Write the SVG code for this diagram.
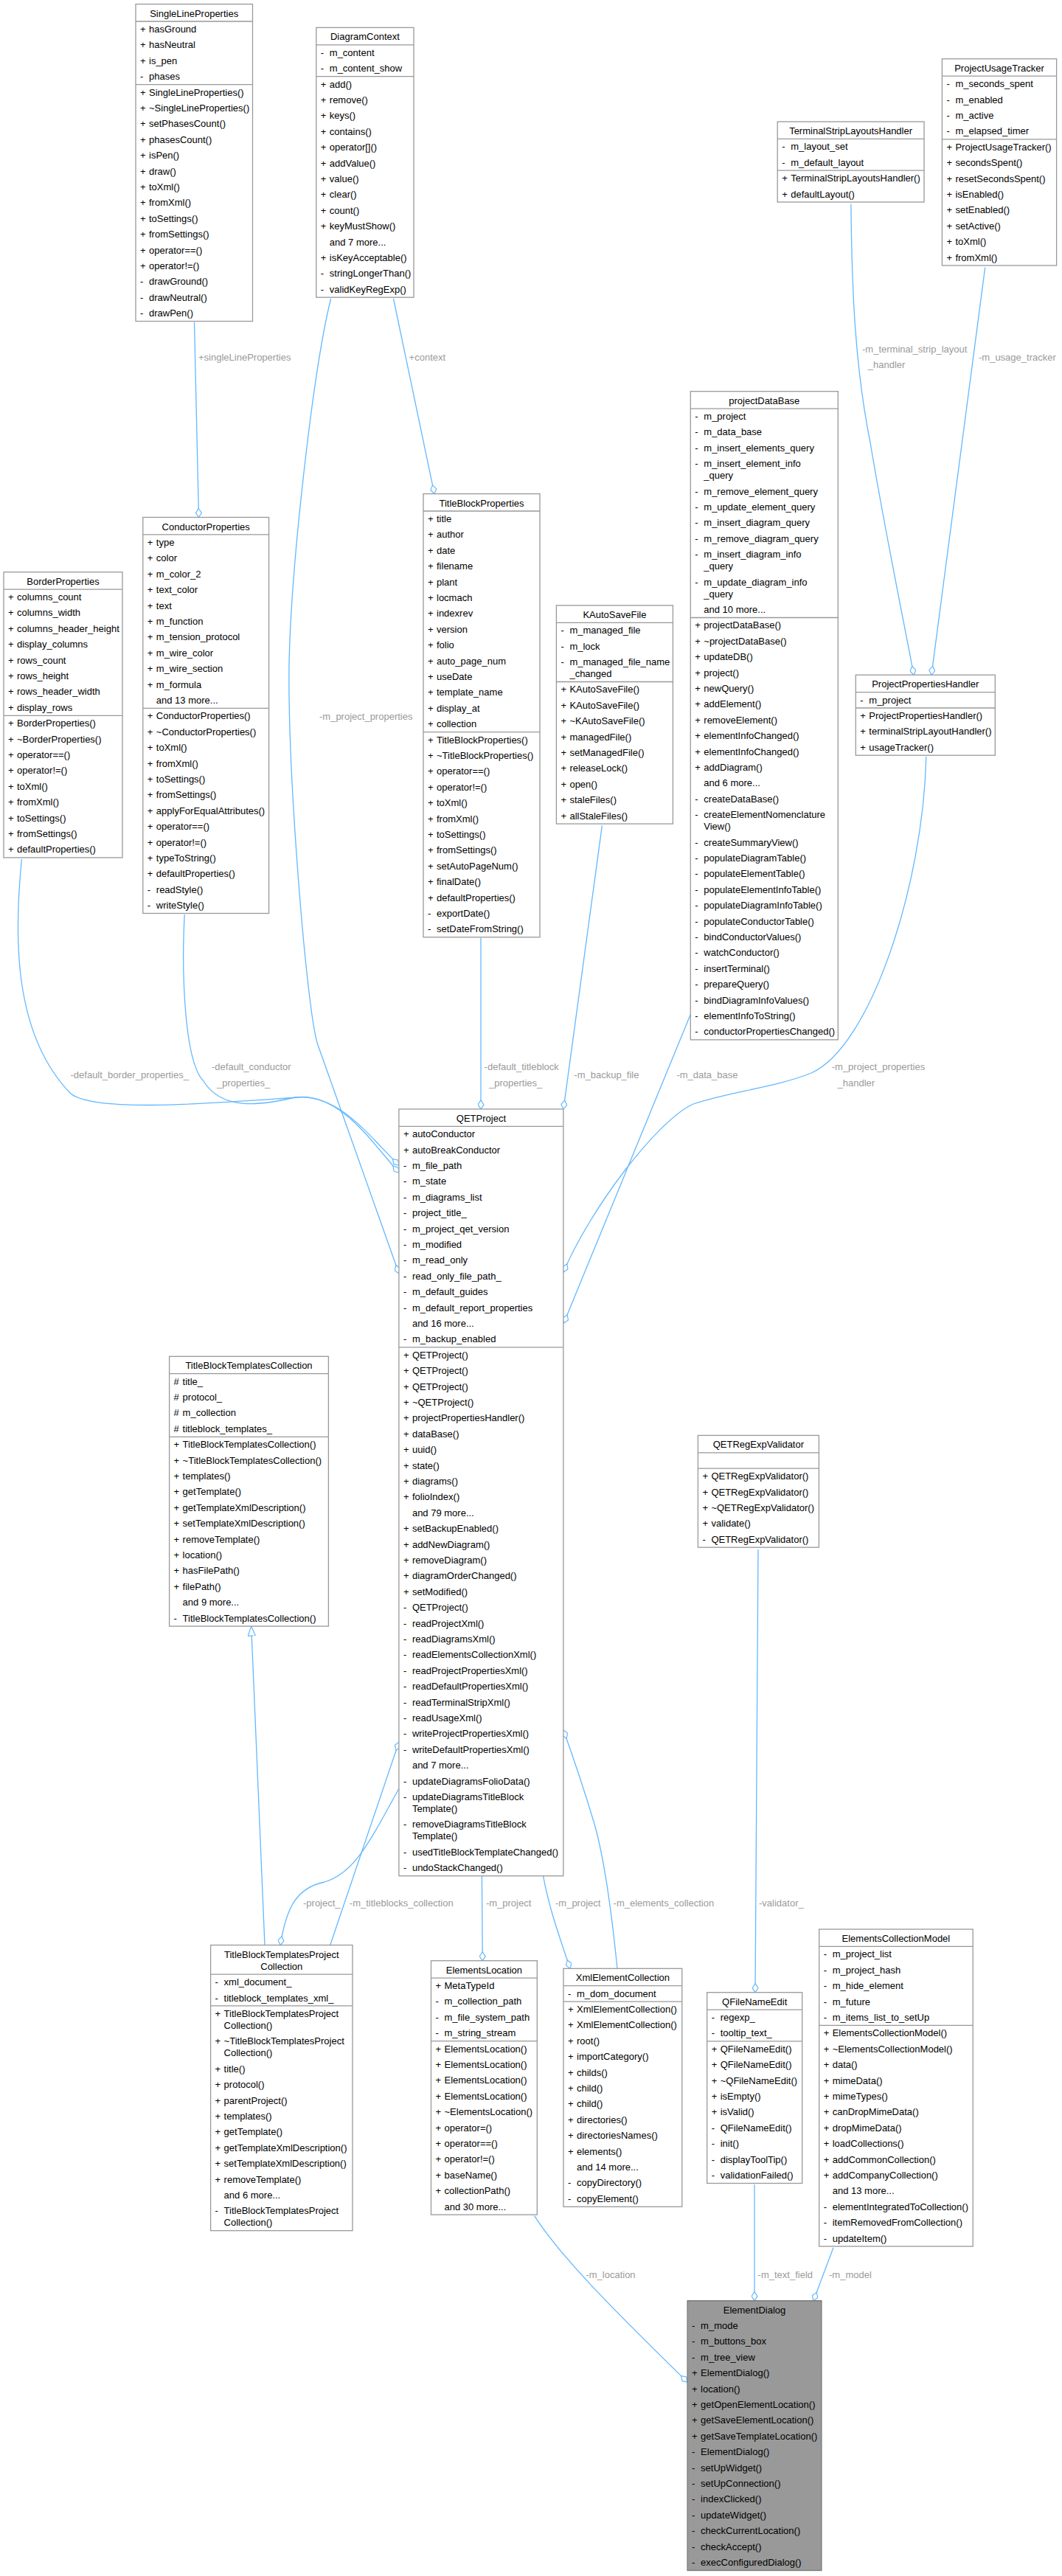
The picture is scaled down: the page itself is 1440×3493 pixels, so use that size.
<svg xmlns="http://www.w3.org/2000/svg" width="1440" height="3493" viewBox="0 0 1440 3493">
<style>
text{font-family:"Liberation Sans",Arial,sans-serif;font-size:13px;fill:#000}
.b{fill:#fff;stroke:#999;stroke-width:1.3}
.g{fill:#999;stroke:#777;stroke-width:1.3}
.l{stroke:#999;stroke-width:1.3}
.h{text-anchor:middle}
.e{fill:none;stroke:#63b8ff;stroke-width:1.3}
.lb{fill:#9a9a9a}
</style>
<defs>
<marker id="dia" markerUnits="userSpaceOnUse" viewBox="0 0 13 9" refX="12.5" refY="4.5" markerWidth="13" markerHeight="9" orient="auto"><path d="M0.5,4.5 L6.5,0.5 L12.5,4.5 L6.5,8.5 Z" fill="#fff" stroke="#63b8ff" stroke-width="1.2"/></marker>
<marker id="tri" markerUnits="userSpaceOnUse" viewBox="0 0 14 11" refX="13.5" refY="5.5" markerWidth="14" markerHeight="11" orient="auto"><path d="M0.5,0.5 L13.5,5.5 L0.5,10.5 Z" fill="#fff" stroke="#63b8ff" stroke-width="1.2"/></marker>
</defs>
<rect width="1440" height="3493" fill="#fff"/>

<g id="connectors">
<path class="e" marker-end="url(#dia)" d="M263.5,437 L269.5,701.5"/>
<path class="e" marker-end="url(#dia)" d="M533.5,405 L589,669.6"/>
<path class="e" marker-end="url(#dia)" d="M448.6,405 C425,500 395,760 392,900 C390,1050 415,1360 430,1414 L541,1727"/>
<path class="e" marker-end="url(#dia)" d="M29.4,1165 C20,1260 15,1400 96,1483 C130,1510 300,1495 404,1488 C460,1484 500,1540 541,1580"/>
<path class="e" marker-end="url(#dia)" d="M250.2,1240 C246,1320 250,1440 276,1466 C300,1505 350,1500 400,1488 C460,1480 505,1550 541,1590"/>
<path class="e" marker-end="url(#dia)" d="M652,1271.8 L652,1503.9"/>
<path class="e" marker-end="url(#dia)" d="M816.4,1119.4 L764,1503.9"/>
<path class="e" marker-end="url(#dia)" d="M936.3,1375.6 L764.5,1794"/>
<path class="e" marker-end="url(#dia)" d="M1255.8,1026 C1252,1200 1180,1420 1100,1455 C1050,1475 990,1480 940,1497 C890,1520 800,1640 764,1725"/>
<path class="e" marker-end="url(#dia)" d="M1153.9,276.8 C1155,400 1160,500 1180,600 C1200,720 1225,840 1239,915.2"/>
<path class="e" marker-end="url(#dia)" d="M1335.7,362.7 L1263,915.2"/>
<path class="e" marker-end="url(#tri)" d="M359,2637.5 L340.7,2205.1"/>
<path class="e" marker-end="url(#dia)" d="M541,2425 C500,2500 480,2540 440,2552 C400,2560 388,2590 380,2637.5"/>
<path class="e" marker-end="url(#dia)" d="M447.7,2637.5 L541,2362"/>
<path class="e" marker-end="url(#dia)" d="M653.4,2543.7 L654.3,2658.7"/>
<path class="e" marker-end="url(#dia)" d="M837,2669.3 C830,2600 820,2520 805,2470 C790,2420 778,2385 764,2346"/>
<path class="e" marker-end="url(#dia)" d="M736.5,2543.7 C745,2590 760,2630 773,2669.3"/>
<path class="e" marker-end="url(#dia)" d="M1028,2101 L1024,2701.7"/>
<path class="e" marker-end="url(#dia)" d="M724.6,3004.7 C760,3060 830,3130 932.1,3230"/>
<path class="e" marker-end="url(#dia)" d="M1023,2962.3 L1023,3119.7"/>
<path class="e" marker-end="url(#dia)" d="M1130,3047.7 L1103,3119.7"/>
<g class="lb">
<text class="lb" x="269" y="488.5">+singleLineProperties</text>
<text class="lb" x="554.6" y="488.5">+context</text>
<text class="lb" x="433" y="975.5">-m_project_properties</text>
<text class="lb" x="95.5" y="1461.5">-default_border_properties_</text>
<text class="lb" x="287" y="1450.5">-default_conductor</text>
<text class="lb" x="294" y="1472.5">_properties_</text>
<text class="lb" x="656.6" y="1450.5">-default_titleblock</text>
<text class="lb" x="663" y="1472.5">_properties_</text>
<text class="lb" x="778.3" y="1461.5">-m_backup_file</text>
<text class="lb" x="917.4" y="1461.5">-m_data_base</text>
<text class="lb" x="1127.7" y="1450.5">-m_project_properties</text>
<text class="lb" x="1135.5" y="1472.5">_handler</text>
<text class="lb" x="1169" y="477.5">-m_terminal_strip_layout</text>
<text class="lb" x="1176.8" y="498.9">_handler</text>
<text class="lb" x="1327" y="488.5">-m_usage_tracker</text>
<text class="lb" x="411" y="2584.5">-project_</text>
<text class="lb" x="473.8" y="2584.5">-m_titleblocks_collection</text>
<text class="lb" x="658.9" y="2584.5">-m_project</text>
<text class="lb" x="753" y="2584.5">-m_project</text>
<text class="lb" x="831.6" y="2584.5">-m_elements_collection</text>
<text class="lb" x="1029" y="2584.5">-validator_</text>
<text class="lb" x="794.4" y="3088.5">-m_location</text>
<text class="lb" x="1027.6" y="3088.5">-m_text_field</text>
<text class="lb" x="1124" y="3088.5">-m_model</text>
</g>
</g>

<g id="SingleLineProperties" transform="translate(184,5.6)">
<rect class="b" width="158.5" height="430"/><line class="l" x1="0" y1="23.4" x2="158.5" y2="23.4"/><line class="l" x1="0" y1="109" x2="158.5" y2="109"/>
<text class="h" x="79.2" y="17">SingleLineProperties</text>
<text y="38.4"><tspan x="6">+</tspan><tspan x="18">hasGround</tspan></text>
<text y="59.8"><tspan x="6">+</tspan><tspan x="18">hasNeutral</tspan></text>
<text y="81.2"><tspan x="6">+</tspan><tspan x="18">is_pen</tspan></text>
<text y="102.6"><tspan x="6">-</tspan><tspan x="18">phases</tspan></text>
<text y="124"><tspan x="6">+</tspan><tspan x="18">SingleLineProperties()</tspan></text>
<text y="145.4"><tspan x="6">+</tspan><tspan x="18">~SingleLineProperties()</tspan></text>
<text y="166.8"><tspan x="6">+</tspan><tspan x="18">setPhasesCount()</tspan></text>
<text y="188.2"><tspan x="6">+</tspan><tspan x="18">phasesCount()</tspan></text>
<text y="209.6"><tspan x="6">+</tspan><tspan x="18">isPen()</tspan></text>
<text y="231"><tspan x="6">+</tspan><tspan x="18">draw()</tspan></text>
<text y="252.4"><tspan x="6">+</tspan><tspan x="18">toXml()</tspan></text>
<text y="273.8"><tspan x="6">+</tspan><tspan x="18">fromXml()</tspan></text>
<text y="295.2"><tspan x="6">+</tspan><tspan x="18">toSettings()</tspan></text>
<text y="316.6"><tspan x="6">+</tspan><tspan x="18">fromSettings()</tspan></text>
<text y="338"><tspan x="6">+</tspan><tspan x="18">operator==()</tspan></text>
<text y="359.4"><tspan x="6">+</tspan><tspan x="18">operator!=()</tspan></text>
<text y="380.8"><tspan x="6">-</tspan><tspan x="18">drawGround()</tspan></text>
<text y="402.2"><tspan x="6">-</tspan><tspan x="18">drawNeutral()</tspan></text>
<text y="423.6"><tspan x="6">-</tspan><tspan x="18">drawPen()</tspan></text>
</g>

<g id="DiagramContext" transform="translate(428.8,37.4)">
<rect class="b" width="132.2" height="365.8"/><line class="l" x1="0" y1="23.4" x2="132.2" y2="23.4"/><line class="l" x1="0" y1="66.2" x2="132.2" y2="66.2"/>
<text class="h" x="66.1" y="17">DiagramContext</text>
<text y="38.4"><tspan x="6">-</tspan><tspan x="18">m_content</tspan></text>
<text y="59.8"><tspan x="6">-</tspan><tspan x="18">m_content_show</tspan></text>
<text y="81.2"><tspan x="6">+</tspan><tspan x="18">add()</tspan></text>
<text y="102.6"><tspan x="6">+</tspan><tspan x="18">remove()</tspan></text>
<text y="124"><tspan x="6">+</tspan><tspan x="18">keys()</tspan></text>
<text y="145.4"><tspan x="6">+</tspan><tspan x="18">contains()</tspan></text>
<text y="166.8"><tspan x="6">+</tspan><tspan x="18">operator[]()</tspan></text>
<text y="188.2"><tspan x="6">+</tspan><tspan x="18">addValue()</tspan></text>
<text y="209.6"><tspan x="6">+</tspan><tspan x="18">value()</tspan></text>
<text y="231"><tspan x="6">+</tspan><tspan x="18">clear()</tspan></text>
<text y="252.4"><tspan x="6">+</tspan><tspan x="18">count()</tspan></text>
<text y="273.8"><tspan x="6">+</tspan><tspan x="18">keyMustShow()</tspan></text>
<text x="18" y="295.2">and 7 more...</text>
<text y="316.6"><tspan x="6">+</tspan><tspan x="18">isKeyAcceptable()</tspan></text>
<text y="338"><tspan x="6">-</tspan><tspan x="18">stringLongerThan()</tspan></text>
<text y="359.4"><tspan x="6">-</tspan><tspan x="18">validKeyRegExp()</tspan></text>
</g>

<g id="ConductorProperties" transform="translate(193.8,701.5)">
<rect class="b" width="170.8" height="537"/><line class="l" x1="0" y1="23.4" x2="170.8" y2="23.4"/><line class="l" x1="0" y1="258.8" x2="170.8" y2="258.8"/>
<text class="h" x="85.4" y="17">ConductorProperties</text>
<text y="38.4"><tspan x="6">+</tspan><tspan x="18">type</tspan></text>
<text y="59.8"><tspan x="6">+</tspan><tspan x="18">color</tspan></text>
<text y="81.2"><tspan x="6">+</tspan><tspan x="18">m_color_2</tspan></text>
<text y="102.6"><tspan x="6">+</tspan><tspan x="18">text_color</tspan></text>
<text y="124"><tspan x="6">+</tspan><tspan x="18">text</tspan></text>
<text y="145.4"><tspan x="6">+</tspan><tspan x="18">m_function</tspan></text>
<text y="166.8"><tspan x="6">+</tspan><tspan x="18">m_tension_protocol</tspan></text>
<text y="188.2"><tspan x="6">+</tspan><tspan x="18">m_wire_color</tspan></text>
<text y="209.6"><tspan x="6">+</tspan><tspan x="18">m_wire_section</tspan></text>
<text y="231"><tspan x="6">+</tspan><tspan x="18">m_formula</tspan></text>
<text x="18" y="252.4">and 13 more...</text>
<text y="273.8"><tspan x="6">+</tspan><tspan x="18">ConductorProperties()</tspan></text>
<text y="295.2"><tspan x="6">+</tspan><tspan x="18">~ConductorProperties()</tspan></text>
<text y="316.6"><tspan x="6">+</tspan><tspan x="18">toXml()</tspan></text>
<text y="338"><tspan x="6">+</tspan><tspan x="18">fromXml()</tspan></text>
<text y="359.4"><tspan x="6">+</tspan><tspan x="18">toSettings()</tspan></text>
<text y="380.8"><tspan x="6">+</tspan><tspan x="18">fromSettings()</tspan></text>
<text y="402.2"><tspan x="6">+</tspan><tspan x="18">applyForEqualAttributes()</tspan></text>
<text y="423.6"><tspan x="6">+</tspan><tspan x="18">operator==()</tspan></text>
<text y="445"><tspan x="6">+</tspan><tspan x="18">operator!=()</tspan></text>
<text y="466.4"><tspan x="6">+</tspan><tspan x="18">typeToString()</tspan></text>
<text y="487.8"><tspan x="6">+</tspan><tspan x="18">defaultProperties()</tspan></text>
<text y="509.2"><tspan x="6">-</tspan><tspan x="18">readStyle()</tspan></text>
<text y="530.6"><tspan x="6">-</tspan><tspan x="18">writeStyle()</tspan></text>
</g>

<g id="BorderProperties" transform="translate(5,775.7)">
<rect class="b" width="161" height="387.2"/><line class="l" x1="0" y1="23.4" x2="161" y2="23.4"/><line class="l" x1="0" y1="194.6" x2="161" y2="194.6"/>
<text class="h" x="80.5" y="17">BorderProperties</text>
<text y="38.4"><tspan x="6">+</tspan><tspan x="18">columns_count</tspan></text>
<text y="59.8"><tspan x="6">+</tspan><tspan x="18">columns_width</tspan></text>
<text y="81.2"><tspan x="6">+</tspan><tspan x="18">columns_header_height</tspan></text>
<text y="102.6"><tspan x="6">+</tspan><tspan x="18">display_columns</tspan></text>
<text y="124"><tspan x="6">+</tspan><tspan x="18">rows_count</tspan></text>
<text y="145.4"><tspan x="6">+</tspan><tspan x="18">rows_height</tspan></text>
<text y="166.8"><tspan x="6">+</tspan><tspan x="18">rows_header_width</tspan></text>
<text y="188.2"><tspan x="6">+</tspan><tspan x="18">display_rows</tspan></text>
<text y="209.6"><tspan x="6">+</tspan><tspan x="18">BorderProperties()</tspan></text>
<text y="231"><tspan x="6">+</tspan><tspan x="18">~BorderProperties()</tspan></text>
<text y="252.4"><tspan x="6">+</tspan><tspan x="18">operator==()</tspan></text>
<text y="273.8"><tspan x="6">+</tspan><tspan x="18">operator!=()</tspan></text>
<text y="295.2"><tspan x="6">+</tspan><tspan x="18">toXml()</tspan></text>
<text y="316.6"><tspan x="6">+</tspan><tspan x="18">fromXml()</tspan></text>
<text y="338"><tspan x="6">+</tspan><tspan x="18">toSettings()</tspan></text>
<text y="359.4"><tspan x="6">+</tspan><tspan x="18">fromSettings()</tspan></text>
<text y="380.8"><tspan x="6">+</tspan><tspan x="18">defaultProperties()</tspan></text>
</g>

<g id="TitleBlockProperties" transform="translate(574,669.6)">
<rect class="b" width="158" height="601.2"/><line class="l" x1="0" y1="23.4" x2="158" y2="23.4"/><line class="l" x1="0" y1="323" x2="158" y2="323"/>
<text class="h" x="79" y="17">TitleBlockProperties</text>
<text y="38.4"><tspan x="6">+</tspan><tspan x="18">title</tspan></text>
<text y="59.8"><tspan x="6">+</tspan><tspan x="18">author</tspan></text>
<text y="81.2"><tspan x="6">+</tspan><tspan x="18">date</tspan></text>
<text y="102.6"><tspan x="6">+</tspan><tspan x="18">filename</tspan></text>
<text y="124"><tspan x="6">+</tspan><tspan x="18">plant</tspan></text>
<text y="145.4"><tspan x="6">+</tspan><tspan x="18">locmach</tspan></text>
<text y="166.8"><tspan x="6">+</tspan><tspan x="18">indexrev</tspan></text>
<text y="188.2"><tspan x="6">+</tspan><tspan x="18">version</tspan></text>
<text y="209.6"><tspan x="6">+</tspan><tspan x="18">folio</tspan></text>
<text y="231"><tspan x="6">+</tspan><tspan x="18">auto_page_num</tspan></text>
<text y="252.4"><tspan x="6">+</tspan><tspan x="18">useDate</tspan></text>
<text y="273.8"><tspan x="6">+</tspan><tspan x="18">template_name</tspan></text>
<text y="295.2"><tspan x="6">+</tspan><tspan x="18">display_at</tspan></text>
<text y="316.6"><tspan x="6">+</tspan><tspan x="18">collection</tspan></text>
<text y="338"><tspan x="6">+</tspan><tspan x="18">TitleBlockProperties()</tspan></text>
<text y="359.4"><tspan x="6">+</tspan><tspan x="18">~TitleBlockProperties()</tspan></text>
<text y="380.8"><tspan x="6">+</tspan><tspan x="18">operator==()</tspan></text>
<text y="402.2"><tspan x="6">+</tspan><tspan x="18">operator!=()</tspan></text>
<text y="423.6"><tspan x="6">+</tspan><tspan x="18">toXml()</tspan></text>
<text y="445"><tspan x="6">+</tspan><tspan x="18">fromXml()</tspan></text>
<text y="466.4"><tspan x="6">+</tspan><tspan x="18">toSettings()</tspan></text>
<text y="487.8"><tspan x="6">+</tspan><tspan x="18">fromSettings()</tspan></text>
<text y="509.2"><tspan x="6">+</tspan><tspan x="18">setAutoPageNum()</tspan></text>
<text y="530.6"><tspan x="6">+</tspan><tspan x="18">finalDate()</tspan></text>
<text y="552"><tspan x="6">+</tspan><tspan x="18">defaultProperties()</tspan></text>
<text y="573.4"><tspan x="6">-</tspan><tspan x="18">exportDate()</tspan></text>
<text y="594.8"><tspan x="6">-</tspan><tspan x="18">setDateFromString()</tspan></text>
</g>

<g id="TerminalStripLayoutsHandler" transform="translate(1054.2,165)">
<rect class="b" width="198.8" height="109"/><line class="l" x1="0" y1="23.4" x2="198.8" y2="23.4"/><line class="l" x1="0" y1="66.2" x2="198.8" y2="66.2"/>
<text class="h" x="99.4" y="17">TerminalStripLayoutsHandler</text>
<text y="38.4"><tspan x="6">-</tspan><tspan x="18">m_layout_set</tspan></text>
<text y="59.8"><tspan x="6">-</tspan><tspan x="18">m_default_layout</tspan></text>
<text y="81.2"><tspan x="6">+</tspan><tspan x="18">TerminalStripLayoutsHandler()</tspan></text>
<text y="102.6"><tspan x="6">+</tspan><tspan x="18">defaultLayout()</tspan></text>
</g>

<g id="ProjectUsageTracker" transform="translate(1277.4,79.8)">
<rect class="b" width="155.2" height="280.2"/><line class="l" x1="0" y1="23.4" x2="155.2" y2="23.4"/><line class="l" x1="0" y1="109" x2="155.2" y2="109"/>
<text class="h" x="77.6" y="17">ProjectUsageTracker</text>
<text y="38.4"><tspan x="6">-</tspan><tspan x="18">m_seconds_spent</tspan></text>
<text y="59.8"><tspan x="6">-</tspan><tspan x="18">m_enabled</tspan></text>
<text y="81.2"><tspan x="6">-</tspan><tspan x="18">m_active</tspan></text>
<text y="102.6"><tspan x="6">-</tspan><tspan x="18">m_elapsed_timer</tspan></text>
<text y="124"><tspan x="6">+</tspan><tspan x="18">ProjectUsageTracker()</tspan></text>
<text y="145.4"><tspan x="6">+</tspan><tspan x="18">secondsSpent()</tspan></text>
<text y="166.8"><tspan x="6">+</tspan><tspan x="18">resetSecondsSpent()</tspan></text>
<text y="188.2"><tspan x="6">+</tspan><tspan x="18">isEnabled()</tspan></text>
<text y="209.6"><tspan x="6">+</tspan><tspan x="18">setEnabled()</tspan></text>
<text y="231"><tspan x="6">+</tspan><tspan x="18">setActive()</tspan></text>
<text y="252.4"><tspan x="6">+</tspan><tspan x="18">toXml()</tspan></text>
<text y="273.8"><tspan x="6">+</tspan><tspan x="18">fromXml()</tspan></text>
</g>

<g id="projectDataBase" transform="translate(936.3,530.7)">
<rect class="b" width="200" height="879.2"/><line class="l" x1="0" y1="23.4" x2="200" y2="23.4"/><line class="l" x1="0" y1="306.8" x2="200" y2="306.8"/>
<text class="h" x="100" y="17">projectDataBase</text>
<text y="38.4"><tspan x="6">-</tspan><tspan x="18">m_project</tspan></text>
<text y="59.8"><tspan x="6">-</tspan><tspan x="18">m_data_base</tspan></text>
<text y="81.2"><tspan x="6">-</tspan><tspan x="18">m_insert_elements_query</tspan></text>
<text y="102.6"><tspan x="6">-</tspan><tspan x="18">m_insert_element_info</tspan></text>
<text x="18" y="118.6">_query</text>
<text y="140"><tspan x="6">-</tspan><tspan x="18">m_remove_element_query</tspan></text>
<text y="161.4"><tspan x="6">-</tspan><tspan x="18">m_update_element_query</tspan></text>
<text y="182.8"><tspan x="6">-</tspan><tspan x="18">m_insert_diagram_query</tspan></text>
<text y="204.2"><tspan x="6">-</tspan><tspan x="18">m_remove_diagram_query</tspan></text>
<text y="225.6"><tspan x="6">-</tspan><tspan x="18">m_insert_diagram_info</tspan></text>
<text x="18" y="241.6">_query</text>
<text y="263"><tspan x="6">-</tspan><tspan x="18">m_update_diagram_info</tspan></text>
<text x="18" y="279">_query</text>
<text x="18" y="300.4">and 10 more...</text>
<text y="321.8"><tspan x="6">+</tspan><tspan x="18">projectDataBase()</tspan></text>
<text y="343.2"><tspan x="6">+</tspan><tspan x="18">~projectDataBase()</tspan></text>
<text y="364.6"><tspan x="6">+</tspan><tspan x="18">updateDB()</tspan></text>
<text y="386"><tspan x="6">+</tspan><tspan x="18">project()</tspan></text>
<text y="407.4"><tspan x="6">+</tspan><tspan x="18">newQuery()</tspan></text>
<text y="428.8"><tspan x="6">+</tspan><tspan x="18">addElement()</tspan></text>
<text y="450.2"><tspan x="6">+</tspan><tspan x="18">removeElement()</tspan></text>
<text y="471.6"><tspan x="6">+</tspan><tspan x="18">elementInfoChanged()</tspan></text>
<text y="493"><tspan x="6">+</tspan><tspan x="18">elementInfoChanged()</tspan></text>
<text y="514.4"><tspan x="6">+</tspan><tspan x="18">addDiagram()</tspan></text>
<text x="18" y="535.8">and 6 more...</text>
<text y="557.2"><tspan x="6">-</tspan><tspan x="18">createDataBase()</tspan></text>
<text y="578.6"><tspan x="6">-</tspan><tspan x="18">createElementNomenclature</tspan></text>
<text x="18" y="594.6">View()</text>
<text y="616"><tspan x="6">-</tspan><tspan x="18">createSummaryView()</tspan></text>
<text y="637.4"><tspan x="6">-</tspan><tspan x="18">populateDiagramTable()</tspan></text>
<text y="658.8"><tspan x="6">-</tspan><tspan x="18">populateElementTable()</tspan></text>
<text y="680.2"><tspan x="6">-</tspan><tspan x="18">populateElementInfoTable()</tspan></text>
<text y="701.6"><tspan x="6">-</tspan><tspan x="18">populateDiagramInfoTable()</tspan></text>
<text y="723"><tspan x="6">-</tspan><tspan x="18">populateConductorTable()</tspan></text>
<text y="744.4"><tspan x="6">-</tspan><tspan x="18">bindConductorValues()</tspan></text>
<text y="765.8"><tspan x="6">-</tspan><tspan x="18">watchConductor()</tspan></text>
<text y="787.2"><tspan x="6">-</tspan><tspan x="18">insertTerminal()</tspan></text>
<text y="808.6"><tspan x="6">-</tspan><tspan x="18">prepareQuery()</tspan></text>
<text y="830"><tspan x="6">-</tspan><tspan x="18">bindDiagramInfoValues()</tspan></text>
<text y="851.4"><tspan x="6">-</tspan><tspan x="18">elementInfoToString()</tspan></text>
<text y="872.8"><tspan x="6">-</tspan><tspan x="18">conductorPropertiesChanged()</tspan></text>
</g>

<g id="KAutoSaveFile" transform="translate(754.4,820.9)">
<rect class="b" width="158" height="296.2"/><line class="l" x1="0" y1="23.4" x2="158" y2="23.4"/><line class="l" x1="0" y1="103.6" x2="158" y2="103.6"/>
<text class="h" x="79" y="17">KAutoSaveFile</text>
<text y="38.4"><tspan x="6">-</tspan><tspan x="18">m_managed_file</tspan></text>
<text y="59.8"><tspan x="6">-</tspan><tspan x="18">m_lock</tspan></text>
<text y="81.2"><tspan x="6">-</tspan><tspan x="18">m_managed_file_name</tspan></text>
<text x="18" y="97.2">_changed</text>
<text y="118.6"><tspan x="6">+</tspan><tspan x="18">KAutoSaveFile()</tspan></text>
<text y="140"><tspan x="6">+</tspan><tspan x="18">KAutoSaveFile()</tspan></text>
<text y="161.4"><tspan x="6">+</tspan><tspan x="18">~KAutoSaveFile()</tspan></text>
<text y="182.8"><tspan x="6">+</tspan><tspan x="18">managedFile()</tspan></text>
<text y="204.2"><tspan x="6">+</tspan><tspan x="18">setManagedFile()</tspan></text>
<text y="225.6"><tspan x="6">+</tspan><tspan x="18">releaseLock()</tspan></text>
<text y="247"><tspan x="6">+</tspan><tspan x="18">open()</tspan></text>
<text y="268.4"><tspan x="6">+</tspan><tspan x="18">staleFiles()</tspan></text>
<text y="289.8"><tspan x="6">+</tspan><tspan x="18">allStaleFiles()</tspan></text>
</g>

<g id="ProjectPropertiesHandler" transform="translate(1160.3,915.2)">
<rect class="b" width="189" height="109"/><line class="l" x1="0" y1="23.4" x2="189" y2="23.4"/><line class="l" x1="0" y1="44.8" x2="189" y2="44.8"/>
<text class="h" x="94.5" y="17">ProjectPropertiesHandler</text>
<text y="38.4"><tspan x="6">-</tspan><tspan x="18">m_project</tspan></text>
<text y="59.8"><tspan x="6">+</tspan><tspan x="18">ProjectPropertiesHandler()</tspan></text>
<text y="81.2"><tspan x="6">+</tspan><tspan x="18">terminalStripLayoutHandler()</tspan></text>
<text y="102.6"><tspan x="6">+</tspan><tspan x="18">usageTracker()</tspan></text>
</g>

<g id="QETProject" transform="translate(540.9,1503.9)">
<rect class="b" width="223" height="1039.8"/><line class="l" x1="0" y1="23.4" x2="223" y2="23.4"/><line class="l" x1="0" y1="323" x2="223" y2="323"/>
<text class="h" x="111.5" y="17">QETProject</text>
<text y="38.4"><tspan x="6">+</tspan><tspan x="18">autoConductor</tspan></text>
<text y="59.8"><tspan x="6">+</tspan><tspan x="18">autoBreakConductor</tspan></text>
<text y="81.2"><tspan x="6">-</tspan><tspan x="18">m_file_path</tspan></text>
<text y="102.6"><tspan x="6">-</tspan><tspan x="18">m_state</tspan></text>
<text y="124"><tspan x="6">-</tspan><tspan x="18">m_diagrams_list</tspan></text>
<text y="145.4"><tspan x="6">-</tspan><tspan x="18">project_title_</tspan></text>
<text y="166.8"><tspan x="6">-</tspan><tspan x="18">m_project_qet_version</tspan></text>
<text y="188.2"><tspan x="6">-</tspan><tspan x="18">m_modified</tspan></text>
<text y="209.6"><tspan x="6">-</tspan><tspan x="18">m_read_only</tspan></text>
<text y="231"><tspan x="6">-</tspan><tspan x="18">read_only_file_path_</tspan></text>
<text y="252.4"><tspan x="6">-</tspan><tspan x="18">m_default_guides</tspan></text>
<text y="273.8"><tspan x="6">-</tspan><tspan x="18">m_default_report_properties</tspan></text>
<text x="18" y="295.2">and 16 more...</text>
<text y="316.6"><tspan x="6">-</tspan><tspan x="18">m_backup_enabled</tspan></text>
<text y="338"><tspan x="6">+</tspan><tspan x="18">QETProject()</tspan></text>
<text y="359.4"><tspan x="6">+</tspan><tspan x="18">QETProject()</tspan></text>
<text y="380.8"><tspan x="6">+</tspan><tspan x="18">QETProject()</tspan></text>
<text y="402.2"><tspan x="6">+</tspan><tspan x="18">~QETProject()</tspan></text>
<text y="423.6"><tspan x="6">+</tspan><tspan x="18">projectPropertiesHandler()</tspan></text>
<text y="445"><tspan x="6">+</tspan><tspan x="18">dataBase()</tspan></text>
<text y="466.4"><tspan x="6">+</tspan><tspan x="18">uuid()</tspan></text>
<text y="487.8"><tspan x="6">+</tspan><tspan x="18">state()</tspan></text>
<text y="509.2"><tspan x="6">+</tspan><tspan x="18">diagrams()</tspan></text>
<text y="530.6"><tspan x="6">+</tspan><tspan x="18">folioIndex()</tspan></text>
<text x="18" y="552">and 79 more...</text>
<text y="573.4"><tspan x="6">+</tspan><tspan x="18">setBackupEnabled()</tspan></text>
<text y="594.8"><tspan x="6">+</tspan><tspan x="18">addNewDiagram()</tspan></text>
<text y="616.2"><tspan x="6">+</tspan><tspan x="18">removeDiagram()</tspan></text>
<text y="637.6"><tspan x="6">+</tspan><tspan x="18">diagramOrderChanged()</tspan></text>
<text y="659"><tspan x="6">+</tspan><tspan x="18">setModified()</tspan></text>
<text y="680.4"><tspan x="6">-</tspan><tspan x="18">QETProject()</tspan></text>
<text y="701.8"><tspan x="6">-</tspan><tspan x="18">readProjectXml()</tspan></text>
<text y="723.2"><tspan x="6">-</tspan><tspan x="18">readDiagramsXml()</tspan></text>
<text y="744.6"><tspan x="6">-</tspan><tspan x="18">readElementsCollectionXml()</tspan></text>
<text y="766"><tspan x="6">-</tspan><tspan x="18">readProjectPropertiesXml()</tspan></text>
<text y="787.4"><tspan x="6">-</tspan><tspan x="18">readDefaultPropertiesXml()</tspan></text>
<text y="808.8"><tspan x="6">-</tspan><tspan x="18">readTerminalStripXml()</tspan></text>
<text y="830.2"><tspan x="6">-</tspan><tspan x="18">readUsageXml()</tspan></text>
<text y="851.6"><tspan x="6">-</tspan><tspan x="18">writeProjectPropertiesXml()</tspan></text>
<text y="873"><tspan x="6">-</tspan><tspan x="18">writeDefaultPropertiesXml()</tspan></text>
<text x="18" y="894.4">and 7 more...</text>
<text y="915.8"><tspan x="6">-</tspan><tspan x="18">updateDiagramsFolioData()</tspan></text>
<text y="937.2"><tspan x="6">-</tspan><tspan x="18">updateDiagramsTitleBlock</tspan></text>
<text x="18" y="953.2">Template()</text>
<text y="974.6"><tspan x="6">-</tspan><tspan x="18">removeDiagramsTitleBlock</tspan></text>
<text x="18" y="990.6">Template()</text>
<text y="1012"><tspan x="6">-</tspan><tspan x="18">usedTitleBlockTemplateChanged()</tspan></text>
<text y="1033.4"><tspan x="6">-</tspan><tspan x="18">undoStackChanged()</tspan></text>
</g>

<g id="TitleBlockTemplatesCollection" transform="translate(229.6,1839.3)">
<rect class="b" width="215.8" height="365.8"/><line class="l" x1="0" y1="23.4" x2="215.8" y2="23.4"/><line class="l" x1="0" y1="109" x2="215.8" y2="109"/>
<text class="h" x="107.9" y="17">TitleBlockTemplatesCollection</text>
<text y="38.4"><tspan x="6">#</tspan><tspan x="18">title_</tspan></text>
<text y="59.8"><tspan x="6">#</tspan><tspan x="18">protocol_</tspan></text>
<text y="81.2"><tspan x="6">#</tspan><tspan x="18">m_collection</tspan></text>
<text y="102.6"><tspan x="6">#</tspan><tspan x="18">titleblock_templates_</tspan></text>
<text y="124"><tspan x="6">+</tspan><tspan x="18">TitleBlockTemplatesCollection()</tspan></text>
<text y="145.4"><tspan x="6">+</tspan><tspan x="18">~TitleBlockTemplatesCollection()</tspan></text>
<text y="166.8"><tspan x="6">+</tspan><tspan x="18">templates()</tspan></text>
<text y="188.2"><tspan x="6">+</tspan><tspan x="18">getTemplate()</tspan></text>
<text y="209.6"><tspan x="6">+</tspan><tspan x="18">getTemplateXmlDescription()</tspan></text>
<text y="231"><tspan x="6">+</tspan><tspan x="18">setTemplateXmlDescription()</tspan></text>
<text y="252.4"><tspan x="6">+</tspan><tspan x="18">removeTemplate()</tspan></text>
<text y="273.8"><tspan x="6">+</tspan><tspan x="18">location()</tspan></text>
<text y="295.2"><tspan x="6">+</tspan><tspan x="18">hasFilePath()</tspan></text>
<text y="316.6"><tspan x="6">+</tspan><tspan x="18">filePath()</tspan></text>
<text x="18" y="338">and 9 more...</text>
<text y="359.4"><tspan x="6">-</tspan><tspan x="18">TitleBlockTemplatesCollection()</tspan></text>
</g>

<g id="QETRegExpValidator" transform="translate(946.4,1946.4)">
<rect class="b" width="164" height="151.8"/><line class="l" x1="0" y1="23.4" x2="164" y2="23.4"/><line class="l" x1="0" y1="44.8" x2="164" y2="44.8"/>
<text class="h" x="82" y="17">QETRegExpValidator</text>
<text y="59.8"><tspan x="6">+</tspan><tspan x="18">QETRegExpValidator()</tspan></text>
<text y="81.2"><tspan x="6">+</tspan><tspan x="18">QETRegExpValidator()</tspan></text>
<text y="102.6"><tspan x="6">+</tspan><tspan x="18">~QETRegExpValidator()</tspan></text>
<text y="124"><tspan x="6">+</tspan><tspan x="18">validate()</tspan></text>
<text y="145.4"><tspan x="6">-</tspan><tspan x="18">QETRegExpValidator()</tspan></text>
</g>

<g id="TitleBlockTemplatesProjectCollection" transform="translate(285.6,2637.5)">
<rect class="b" width="192.4" height="387.2"/><line class="l" x1="0" y1="39.6" x2="192.4" y2="39.6"/><line class="l" x1="0" y1="82.4" x2="192.4" y2="82.4"/>
<text class="h" x="96.2" y="17">TitleBlockTemplatesProject</text>
<text class="h" x="96.2" y="33">Collection</text>
<text y="54.6"><tspan x="6">-</tspan><tspan x="18">xml_document_</tspan></text>
<text y="76"><tspan x="6">-</tspan><tspan x="18">titleblock_templates_xml_</tspan></text>
<text y="97.4"><tspan x="6">+</tspan><tspan x="18">TitleBlockTemplatesProject</tspan></text>
<text x="18" y="113.4">Collection()</text>
<text y="134.8"><tspan x="6">+</tspan><tspan x="18">~TitleBlockTemplatesProject</tspan></text>
<text x="18" y="150.8">Collection()</text>
<text y="172.2"><tspan x="6">+</tspan><tspan x="18">title()</tspan></text>
<text y="193.6"><tspan x="6">+</tspan><tspan x="18">protocol()</tspan></text>
<text y="215"><tspan x="6">+</tspan><tspan x="18">parentProject()</tspan></text>
<text y="236.4"><tspan x="6">+</tspan><tspan x="18">templates()</tspan></text>
<text y="257.8"><tspan x="6">+</tspan><tspan x="18">getTemplate()</tspan></text>
<text y="279.2"><tspan x="6">+</tspan><tspan x="18">getTemplateXmlDescription()</tspan></text>
<text y="300.6"><tspan x="6">+</tspan><tspan x="18">setTemplateXmlDescription()</tspan></text>
<text y="322"><tspan x="6">+</tspan><tspan x="18">removeTemplate()</tspan></text>
<text x="18" y="343.4">and 6 more...</text>
<text y="364.8"><tspan x="6">-</tspan><tspan x="18">TitleBlockTemplatesProject</tspan></text>
<text x="18" y="380.8">Collection()</text>
</g>

<g id="ElementsLocation" transform="translate(584.5,2658.7)">
<rect class="b" width="143.8" height="344.4"/><line class="l" x1="0" y1="23.4" x2="143.8" y2="23.4"/><line class="l" x1="0" y1="109" x2="143.8" y2="109"/>
<text class="h" x="71.9" y="17">ElementsLocation</text>
<text y="38.4"><tspan x="6">+</tspan><tspan x="18">MetaTypeId</tspan></text>
<text y="59.8"><tspan x="6">-</tspan><tspan x="18">m_collection_path</tspan></text>
<text y="81.2"><tspan x="6">-</tspan><tspan x="18">m_file_system_path</tspan></text>
<text y="102.6"><tspan x="6">-</tspan><tspan x="18">m_string_stream</tspan></text>
<text y="124"><tspan x="6">+</tspan><tspan x="18">ElementsLocation()</tspan></text>
<text y="145.4"><tspan x="6">+</tspan><tspan x="18">ElementsLocation()</tspan></text>
<text y="166.8"><tspan x="6">+</tspan><tspan x="18">ElementsLocation()</tspan></text>
<text y="188.2"><tspan x="6">+</tspan><tspan x="18">ElementsLocation()</tspan></text>
<text y="209.6"><tspan x="6">+</tspan><tspan x="18">~ElementsLocation()</tspan></text>
<text y="231"><tspan x="6">+</tspan><tspan x="18">operator=()</tspan></text>
<text y="252.4"><tspan x="6">+</tspan><tspan x="18">operator==()</tspan></text>
<text y="273.8"><tspan x="6">+</tspan><tspan x="18">operator!=()</tspan></text>
<text y="295.2"><tspan x="6">+</tspan><tspan x="18">baseName()</tspan></text>
<text y="316.6"><tspan x="6">+</tspan><tspan x="18">collectionPath()</tspan></text>
<text x="18" y="338">and 30 more...</text>
</g>

<g id="XmlElementCollection" transform="translate(764,2669.3)">
<rect class="b" width="160.8" height="323"/><line class="l" x1="0" y1="23.4" x2="160.8" y2="23.4"/><line class="l" x1="0" y1="44.8" x2="160.8" y2="44.8"/>
<text class="h" x="80.4" y="17">XmlElementCollection</text>
<text y="38.4"><tspan x="6">-</tspan><tspan x="18">m_dom_document</tspan></text>
<text y="59.8"><tspan x="6">+</tspan><tspan x="18">XmlElementCollection()</tspan></text>
<text y="81.2"><tspan x="6">+</tspan><tspan x="18">XmlElementCollection()</tspan></text>
<text y="102.6"><tspan x="6">+</tspan><tspan x="18">root()</tspan></text>
<text y="124"><tspan x="6">+</tspan><tspan x="18">importCategory()</tspan></text>
<text y="145.4"><tspan x="6">+</tspan><tspan x="18">childs()</tspan></text>
<text y="166.8"><tspan x="6">+</tspan><tspan x="18">child()</tspan></text>
<text y="188.2"><tspan x="6">+</tspan><tspan x="18">child()</tspan></text>
<text y="209.6"><tspan x="6">+</tspan><tspan x="18">directories()</tspan></text>
<text y="231"><tspan x="6">+</tspan><tspan x="18">directoriesNames()</tspan></text>
<text y="252.4"><tspan x="6">+</tspan><tspan x="18">elements()</tspan></text>
<text x="18" y="273.8">and 14 more...</text>
<text y="295.2"><tspan x="6">-</tspan><tspan x="18">copyDirectory()</tspan></text>
<text y="316.6"><tspan x="6">-</tspan><tspan x="18">copyElement()</tspan></text>
</g>

<g id="QFileNameEdit" transform="translate(958.7,2701.7)">
<rect class="b" width="129" height="258.8"/><line class="l" x1="0" y1="23.4" x2="129" y2="23.4"/><line class="l" x1="0" y1="66.2" x2="129" y2="66.2"/>
<text class="h" x="64.5" y="17">QFileNameEdit</text>
<text y="38.4"><tspan x="6">-</tspan><tspan x="18">regexp_</tspan></text>
<text y="59.8"><tspan x="6">-</tspan><tspan x="18">tooltip_text_</tspan></text>
<text y="81.2"><tspan x="6">+</tspan><tspan x="18">QFileNameEdit()</tspan></text>
<text y="102.6"><tspan x="6">+</tspan><tspan x="18">QFileNameEdit()</tspan></text>
<text y="124"><tspan x="6">+</tspan><tspan x="18">~QFileNameEdit()</tspan></text>
<text y="145.4"><tspan x="6">+</tspan><tspan x="18">isEmpty()</tspan></text>
<text y="166.8"><tspan x="6">+</tspan><tspan x="18">isValid()</tspan></text>
<text y="188.2"><tspan x="6">-</tspan><tspan x="18">QFileNameEdit()</tspan></text>
<text y="209.6"><tspan x="6">-</tspan><tspan x="18">init()</tspan></text>
<text y="231"><tspan x="6">-</tspan><tspan x="18">displayToolTip()</tspan></text>
<text y="252.4"><tspan x="6">-</tspan><tspan x="18">validationFailed()</tspan></text>
</g>

<g id="ElementsCollectionModel" transform="translate(1110.7,2616)">
<rect class="b" width="208.5" height="430"/><line class="l" x1="0" y1="23.4" x2="208.5" y2="23.4"/><line class="l" x1="0" y1="130.4" x2="208.5" y2="130.4"/>
<text class="h" x="104.2" y="17">ElementsCollectionModel</text>
<text y="38.4"><tspan x="6">-</tspan><tspan x="18">m_project_list</tspan></text>
<text y="59.8"><tspan x="6">-</tspan><tspan x="18">m_project_hash</tspan></text>
<text y="81.2"><tspan x="6">-</tspan><tspan x="18">m_hide_element</tspan></text>
<text y="102.6"><tspan x="6">-</tspan><tspan x="18">m_future</tspan></text>
<text y="124"><tspan x="6">-</tspan><tspan x="18">m_items_list_to_setUp</tspan></text>
<text y="145.4"><tspan x="6">+</tspan><tspan x="18">ElementsCollectionModel()</tspan></text>
<text y="166.8"><tspan x="6">+</tspan><tspan x="18">~ElementsCollectionModel()</tspan></text>
<text y="188.2"><tspan x="6">+</tspan><tspan x="18">data()</tspan></text>
<text y="209.6"><tspan x="6">+</tspan><tspan x="18">mimeData()</tspan></text>
<text y="231"><tspan x="6">+</tspan><tspan x="18">mimeTypes()</tspan></text>
<text y="252.4"><tspan x="6">+</tspan><tspan x="18">canDropMimeData()</tspan></text>
<text y="273.8"><tspan x="6">+</tspan><tspan x="18">dropMimeData()</tspan></text>
<text y="295.2"><tspan x="6">+</tspan><tspan x="18">loadCollections()</tspan></text>
<text y="316.6"><tspan x="6">+</tspan><tspan x="18">addCommonCollection()</tspan></text>
<text y="338"><tspan x="6">+</tspan><tspan x="18">addCompanyCollection()</tspan></text>
<text x="18" y="359.4">and 13 more...</text>
<text y="380.8"><tspan x="6">-</tspan><tspan x="18">elementIntegratedToCollection()</tspan></text>
<text y="402.2"><tspan x="6">-</tspan><tspan x="18">itemRemovedFromCollection()</tspan></text>
<text y="423.6"><tspan x="6">-</tspan><tspan x="18">updateItem()</tspan></text>
</g>

<g id="ElementDialog" transform="translate(932.1,3119.7)">
<rect class="g" width="181.8" height="365.8"/><line class="l" x1="0" y1="23.4" x2="181.8" y2="23.4" stroke="#777"/><line class="l" x1="0" y1="87.6" x2="181.8" y2="87.6" stroke="#777"/>
<text class="h" x="90.9" y="17">ElementDialog</text>
<text y="38.4"><tspan x="6">-</tspan><tspan x="18">m_mode</tspan></text>
<text y="59.8"><tspan x="6">-</tspan><tspan x="18">m_buttons_box</tspan></text>
<text y="81.2"><tspan x="6">-</tspan><tspan x="18">m_tree_view</tspan></text>
<text y="102.6"><tspan x="6">+</tspan><tspan x="18">ElementDialog()</tspan></text>
<text y="124"><tspan x="6">+</tspan><tspan x="18">location()</tspan></text>
<text y="145.4"><tspan x="6">+</tspan><tspan x="18">getOpenElementLocation()</tspan></text>
<text y="166.8"><tspan x="6">+</tspan><tspan x="18">getSaveElementLocation()</tspan></text>
<text y="188.2"><tspan x="6">+</tspan><tspan x="18">getSaveTemplateLocation()</tspan></text>
<text y="209.6"><tspan x="6">-</tspan><tspan x="18">ElementDialog()</tspan></text>
<text y="231"><tspan x="6">-</tspan><tspan x="18">setUpWidget()</tspan></text>
<text y="252.4"><tspan x="6">-</tspan><tspan x="18">setUpConnection()</tspan></text>
<text y="273.8"><tspan x="6">-</tspan><tspan x="18">indexClicked()</tspan></text>
<text y="295.2"><tspan x="6">-</tspan><tspan x="18">updateWidget()</tspan></text>
<text y="316.6"><tspan x="6">-</tspan><tspan x="18">checkCurrentLocation()</tspan></text>
<text y="338"><tspan x="6">-</tspan><tspan x="18">checkAccept()</tspan></text>
<text y="359.4"><tspan x="6">-</tspan><tspan x="18">execConfiguredDialog()</tspan></text>
</g>
</svg>
